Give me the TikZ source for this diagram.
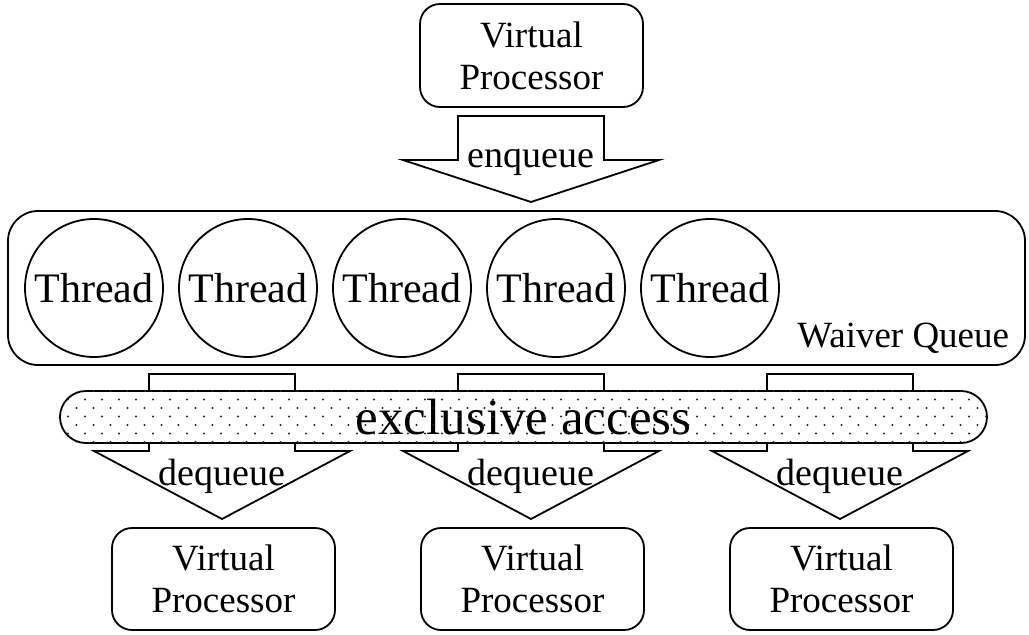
\documentclass[tikz,border=0pt]{standalone}
\usepackage{fontspec}
\setmainfont{Liberation Serif}
\usetikzlibrary{positioning}

\tikzset{
  vpbox/.style={draw, fill=white, rounded corners=20pt, minimum width=223pt, minimum height=103pt, align=center, font=\fontsize{37}{42}\selectfont},
  thread/.style={draw, circle, minimum size=138pt, inner sep=0pt, font=\fontsize{42}{48}\selectfont},
  fatarrow/.style={draw, fill=white, line join=miter},
  lbl/.style={inner sep=0pt, anchor=base, font=\fontsize{38}{44}\selectfont},
}

\begin{document}
\begin{tikzpicture}[x=1pt, y=-1pt, line width=1.8pt]
    \useasboundingbox (0,0) rectangle (1029,635);
    % processor that hands threads to the queue
    \node[vpbox] (vp) at (531.5,55.5) {Virtual\\Processor};
    \draw[fatarrow] (458,116) -- (604,116) -- (604,160) -- (659,160) -- (531,202) -- (403,160) -- (458,160) -- cycle;
    \node[lbl] (enq) at (531,167) {enqueue};

    % the waiver queue with its threads
    \node[draw, rounded corners=30pt, minimum width=1017pt, minimum height=154pt] (queue) at (516.5,288) {};
    \foreach \i/\x in {1/94, 2/248, 3/402, 4/556, 5/710} {
        \node[thread] (t\i) at (\x,288) {Thread};
    }
    \node[inner sep=0pt, anchor=base east, font=\fontsize{37}{42}\selectfont] (wq) at (1010,347) {Waiver Queue};

    % dequeue arrows down to the processors
    \foreach \c [count=\k] in {222, 531, 840} {
        \draw[fatarrow] (\c-73,374) -- (\c+73,374) -- (\c+73,451) -- (\c+128,451) -- (\c,519) -- (\c-128,451) -- (\c-73,451) -- cycle;
        \node[lbl] (deq\k) at (\c,485) {dequeue};
        \node[vpbox, minimum height=102pt] (vp\k) at (\c+1.5,579) {Virtual\\Processor};
    }

    % exclusive access band, dotted
    \node[draw, fill=white, rounded corners=26pt, minimum width=927pt, minimum height=52pt, inner sep=0pt, font=\fontsize{51}{60}\selectfont] (access) at (523.5,417) {exclusive access};
    \begin{scope}
        \clip[rounded corners=26pt] (access.north west) rectangle (access.south east);
        \foreach \r in {0,...,6}
            \foreach \n in {0,...,59}
                \fill[black!85] ({17*\n+8.5*(1-mod(\r,2))},{391+8.5*\r}) circle (1.2pt);
    \end{scope}
\end{tikzpicture}
\end{document}
